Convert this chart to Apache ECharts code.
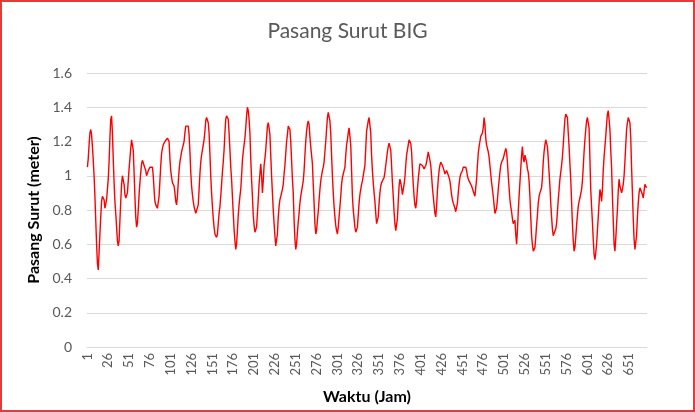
<!DOCTYPE html>
<html>
<head>
<meta charset="utf-8">
<script src="https://cdn.jsdelivr.net/npm/echarts@6/dist/echarts.min.js"></script>
<style>
  html, body { margin: 0; padding: 0; background: #fff; }
  #main { width: 695px; height: 412px; box-sizing: border-box; border: 2px solid #e23b3b; }
</style>
</head>
<body>
<div id="main"></div>
<script>
// tinggi muka air per jam (meter), 28 hari x 24 jam
const level = [
  1.05, 1.10, 1.18, 1.25, 1.27, 1.24, 1.17, 1.09, 1.00, 0.88, 0.74, 0.60, 0.49, 0.45, 0.55, 0.66, 0.76, 0.85, 0.88, 0.87, 0.86, 0.81, 0.80, 0.86,
  0.92, 0.98, 1.08, 1.22, 1.33, 1.35, 1.25, 1.10, 0.96, 0.85, 0.78, 0.70, 0.62, 0.59, 0.62, 0.74, 0.85, 0.95, 1.00, 1.01, 0.95, 0.89, 0.87, 0.86,
  0.90, 0.97, 1.04, 1.10, 1.16, 1.21, 1.22, 1.15, 1.02, 0.88, 0.76, 0.70, 0.72, 0.80, 0.89, 0.96, 1.02, 1.07, 1.09, 1.08, 1.06, 1.05, 1.03, 1.00,
  1.01, 1.03, 1.04, 1.05, 1.06, 1.06, 1.05, 1.00, 0.92, 0.85, 0.83, 0.82, 0.81, 0.81, 0.88, 0.97, 1.06, 1.13, 1.16, 1.18, 1.19, 1.20, 1.20, 1.21,
  1.22, 1.22, 1.20, 1.10, 1.03, 0.99, 0.96, 0.95, 0.94, 0.90, 0.85, 0.83, 0.88, 0.96, 1.03, 1.08, 1.11, 1.14, 1.16, 1.17, 1.20, 1.25, 1.29, 1.30,
  1.30, 1.29, 1.24, 1.14, 1.02, 0.94, 0.89, 0.85, 0.82, 0.80, 0.78, 0.77, 0.77, 0.83, 0.92, 1.01, 1.08, 1.12, 1.15, 1.18, 1.21, 1.26, 1.32, 1.34,
  1.33, 1.31, 1.25, 1.13, 1.00, 0.90, 0.82, 0.75, 0.70, 0.66, 0.65, 0.64, 0.66, 0.72, 0.78, 0.82, 0.88, 0.95, 1.02, 1.08, 1.15, 1.25, 1.33, 1.35,
  1.35, 1.33, 1.25, 1.15, 1.05, 0.98, 0.88, 0.78, 0.69, 0.62, 0.57, 0.60, 0.68, 0.77, 0.83, 0.88, 0.92, 1.00, 1.09, 1.14, 1.18, 1.22, 1.28, 1.35,
  1.40, 1.38, 1.33, 1.25, 1.10, 0.98, 0.88, 0.77, 0.71, 0.67, 0.66, 0.70, 0.78, 0.86, 0.95, 1.01, 1.07, 1.00, 0.90, 0.97, 1.06, 1.10, 1.15, 1.22,
  1.29, 1.31, 1.28, 1.24, 1.12, 1.00, 0.90, 0.80, 0.72, 0.65, 0.59, 0.58, 0.66, 0.76, 0.82, 0.86, 0.88, 0.90, 0.92, 0.95, 1.01, 1.06, 1.13, 1.20,
  1.24, 1.29, 1.30, 1.27, 1.20, 1.09, 0.98, 0.90, 0.74, 0.63, 0.57, 0.60, 0.67, 0.73, 0.78, 0.84, 0.88, 0.91, 0.94, 0.97, 1.03, 1.12, 1.20, 1.26,
  1.30, 1.32, 1.30, 1.23, 1.17, 1.12, 1.07, 0.95, 0.84, 0.72, 0.66, 0.68, 0.74, 0.79, 0.86, 0.92, 0.97, 1.00, 1.03, 1.05, 1.08, 1.14, 1.20, 1.27,
  1.34, 1.37, 1.37, 1.32, 1.25, 1.12, 1.00, 0.90, 0.82, 0.76, 0.71, 0.68, 0.66, 0.70, 0.76, 0.82, 0.88, 0.95, 0.99, 0.99, 0.99, 1.05, 1.12, 1.18,
  1.21, 1.25, 1.28, 1.27, 1.18, 1.03, 0.88, 0.80, 0.75, 0.70, 0.67, 0.66, 0.70, 0.77, 0.84, 0.89, 0.92, 0.95, 0.97, 0.97, 0.98, 1.06, 1.16, 1.26,
  1.29, 1.32, 1.34, 1.35, 1.25, 1.12, 1.03, 0.96, 0.90, 0.85, 0.78, 0.72, 0.71, 0.76, 0.84, 0.90, 0.94, 0.96, 0.97, 0.97, 0.99, 1.02, 1.06, 1.10,
  1.14, 1.17, 1.19, 1.20, 1.15, 1.06, 0.96, 0.88, 0.79, 0.72, 0.68, 0.67, 0.75, 0.85, 0.94, 0.98, 0.96, 0.93, 0.89, 0.89, 0.95, 0.99, 1.06, 1.12,
  1.15, 1.18, 1.21, 1.22, 1.19, 1.14, 1.04, 0.95, 0.88, 0.83, 0.81, 0.85, 0.92, 0.98, 1.03, 1.07, 1.08, 1.07, 1.06, 1.05, 1.04, 1.05, 1.06, 1.08,
  1.11, 1.14, 1.13, 1.09, 1.06, 1.00, 0.93, 0.88, 0.83, 0.78, 0.76, 0.82, 0.91, 0.98, 1.03, 1.06, 1.08, 1.07, 1.06, 1.05, 1.03, 1.01, 1.02, 1.03,
  1.04, 1.02, 0.99, 0.97, 0.93, 0.89, 0.86, 0.84, 0.83, 0.81, 0.79, 0.78, 0.84, 0.90, 0.95, 0.99, 1.01, 1.02, 1.03, 1.05, 1.05, 1.05, 1.05, 1.03,
  1.00, 0.98, 0.97, 0.96, 0.95, 0.94, 0.93, 0.91, 0.90, 0.88, 0.89, 0.98, 1.06, 1.13, 1.17, 1.20, 1.23, 1.24, 1.25, 1.28, 1.34, 1.30, 1.22, 1.18,
  1.16, 1.14, 1.11, 1.06, 1.01, 0.96, 0.92, 0.88, 0.83, 0.78, 0.77, 0.81, 0.86, 0.92, 0.97, 1.02, 1.06, 1.08, 1.09, 1.10, 1.12, 1.13, 1.16, 1.14,
  1.08, 1.00, 0.93, 0.86, 0.82, 0.79, 0.75, 0.72, 0.71, 0.74, 0.66, 0.60, 0.68, 0.79, 0.88, 0.96, 1.04, 1.12, 1.17, 1.10, 1.08, 1.12, 1.13, 1.08,
  1.04, 1.02, 0.97, 0.88, 0.76, 0.65, 0.60, 0.56, 0.55, 0.58, 0.64, 0.71, 0.77, 0.84, 0.88, 0.90, 0.91, 0.93, 0.99, 1.08, 1.14, 1.18, 1.21, 1.20,
  1.17, 1.10, 1.02, 0.94, 0.84, 0.76, 0.69, 0.65, 0.64, 0.66, 0.69, 0.72, 0.79, 0.86, 0.92, 0.98, 1.02, 1.06, 1.11, 1.18, 1.26, 1.33, 1.36, 1.37,
  1.34, 1.25, 1.17, 1.07, 0.98, 0.85, 0.72, 0.62, 0.56, 0.58, 0.64, 0.71, 0.77, 0.82, 0.85, 0.87, 0.88, 0.92, 0.97, 1.05, 1.14, 1.21, 1.27, 1.32,
  1.34, 1.33, 1.28, 1.10, 0.92, 0.82, 0.73, 0.63, 0.54, 0.51, 0.55, 0.60, 0.68, 0.76, 0.84, 0.92, 0.90, 0.85, 0.92, 1.03, 1.11, 1.17, 1.23, 1.30,
  1.36, 1.38, 1.33, 1.27, 1.15, 1.05, 0.88, 0.74, 0.60, 0.56, 0.63, 0.72, 0.80, 0.91, 0.98, 0.94, 0.92, 0.90, 0.92, 0.95, 1.00, 1.08, 1.18, 1.27,
  1.31, 1.34, 1.35, 1.31, 1.22, 1.05, 0.90, 0.75, 0.63, 0.57, 0.56, 0.65, 0.76, 0.84, 0.90, 0.93, 0.94, 0.93, 0.89, 0.87, 0.91, 0.95, 0.94, 0.93
];

// nomor jam 1..n sebagai kategori sumbu x
const hours = level.map((v, i) => String(i + 1));

const yTicks = { min: 0, max: 1.6, interval: 0.2 };

const chart = echarts.init(document.getElementById('main'));
chart.setOption({
    animation: false,
    textStyle: { fontFamily: 'Lato' },
    title: {
        text: 'Pasang Surut BIG',
        left: 'center',
        top: 14,
        textStyle: { fontFamily: 'Lato', fontSize: 21, fontWeight: 'normal', color: '#595959' }
    },
    grid: { left: 85, right: 46, top: 71, bottom: 59 },
    xAxis: {
        type: 'category',
        data: hours,
        boundaryGap: true,
        name: 'Waktu (Jam)',
        nameLocation: 'middle',
        nameGap: 42,
        nameTextStyle: { fontFamily: 'Lato', fontSize: 16, fontWeight: 'bold', color: '#000' },
        axisLine: { lineStyle: { color: '#d9d9d9', width: 1 } },
        axisTick: { show: false },
        axisLabel: { interval: 24, rotate: 90, margin: 6, fontSize: 13, color: '#595959' },
        splitLine: { show: false }
    },
    yAxis: {
        type: 'value',
        min: yTicks.min,
        max: yTicks.max,
        interval: yTicks.interval,
        name: 'Pasang Surut (meter)',
        nameLocation: 'middle',
        nameGap: 40,
        nameTextStyle: { fontFamily: 'Lato', fontSize: 16, fontWeight: 'bold', color: '#000' },
        axisLine: { show: false },
        axisTick: { show: false },
        axisLabel: { fontSize: 14, color: '#595959', margin: 15 },
        splitLine: { lineStyle: { color: '#d9d9d9', width: 1 } }
    },
    series: [{
        type: 'line',
        data: level,
        showSymbol: false,
        smooth: false,
        lineStyle: { color: '#ff0000', width: 1.4 }
    }]
});
</script>
</body>
</html>
